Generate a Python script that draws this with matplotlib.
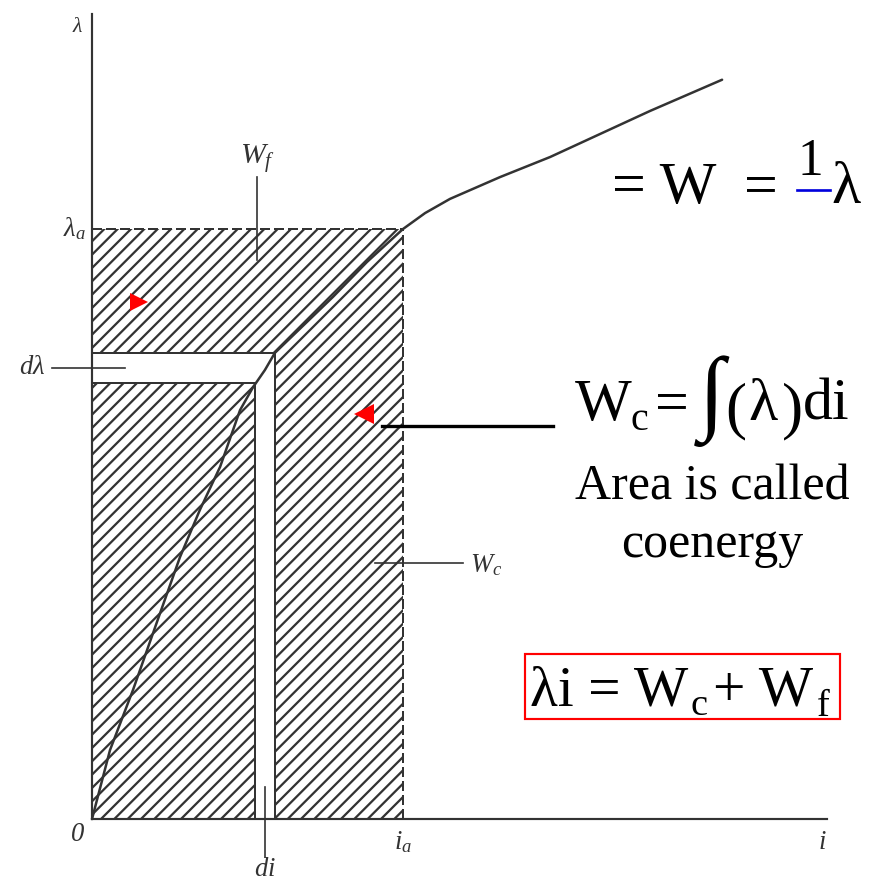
import matplotlib
matplotlib.use('Agg')
import matplotlib.pyplot as plt
from matplotlib.patches import Rectangle, Polygon
from matplotlib.lines import Line2D

# flux linkage vs current, normalised so that i_a = 1 and lambda_a = 1
curve_i = [0.0, 0.058, 0.132, 0.219, 0.283, 0.347, 0.412, 0.476, 0.518,
           0.556, 0.588, 0.775, 0.884, 1.0, 1.071, 1.151, 1.312, 1.473,
           1.794, 2.026]
curve_lam = [0.0, 0.117, 0.219, 0.349, 0.444, 0.524, 0.597, 0.693, 0.732,
             0.761, 0.790, 0.885, 0.944, 1.0, 1.027, 1.051, 1.088, 1.122,
             1.200, 1.253]

i_a = 1.0
lam_a = 1.0
di_strip = [0.524, 0.588]      # i range of the di strip
dlam_strip = [0.739, 0.790]    # lambda range of the d(lambda) strip
i_axis_end = 2.363
lam_axis_end = 1.365

W_PX, H_PX = 869, 884
DPI = 120
INK = '#333333'

plt.rcParams['hatch.linewidth'] = 1.35
plt.rcParams['hatch.color'] = INK
plt.rcParams['mathtext.fontset'] = 'custom'
plt.rcParams['mathtext.rm'] = 'Liberation Serif'
plt.rcParams['mathtext.it'] = 'Liberation Serif:italic'

fig = plt.figure(figsize=(W_PX / DPI, H_PX / DPI), dpi=DPI)
ax = fig.add_axes([0, 0, 1, 1])
ax.set_xlim(-92 / 311, 777 / 311)
ax.set_ylim(-65 / 590, 819 / 590)
ax.axis('off')

book = dict(family='Liberation Serif', style='italic', color=INK)
slide = dict(family='Liberation Serif', color='black')


def fig_text(px, py, s, size, **kw):
    opts = dict(slide)
    opts.update(kw)
    fig.text(px / W_PX, 1 - py / H_PX, s, fontsize=size,
             ha=opts.pop('ha', 'left'), va=opts.pop('va', 'baseline'), **opts)


# hatched rectangle i_a x lambda_a
ax.add_patch(Rectangle((0, 0), i_a, lam_a, facecolor='white',
                       edgecolor=INK, hatch='///', linewidth=0))

# white L-shaped strips di and d(lambda)
i1, i2 = di_strip
l1, l2 = dlam_strip
ax.add_patch(Polygon([(0, l1), (i1, l1), (i1, 0), (i2, 0), (i2, l2), (0, l2)],
                     closed=True, facecolor='white', edgecolor='none'))
for xs, ys in [([0, i2], [l2, l2]), ([0, i1], [l1, l1]),
               ([i1, i1], [0, l1]), ([i2, i2], [0, l2])]:
    ax.plot(xs, ys, color=INK, lw=1.2)

# dashed limits at i_a and lambda_a
ax.plot([0, i_a], [lam_a, lam_a], color=INK, lw=1.2, ls=(0, (5, 2)))
ax.plot([i_a, i_a], [0, lam_a], color=INK, lw=1.2, ls=(0, (5, 2)))

# axes
ax.plot([0, 0], [0, lam_axis_end], color=INK, lw=1.3)
ax.plot([0, i_axis_end], [0, 0], color=INK, lw=1.3)

# magnetisation curve
ax.plot(curve_i, curve_lam, color=INK, lw=1.5, solid_capstyle='round',
        solid_joinstyle='round')

# leaders
ax.plot([0.531, 0.531], [0.947, 1.088], color=INK, lw=1.0)
ax.plot([-0.129, 0.106], [sum(dlam_strip) / 2] * 2, color=INK, lw=1.0)
ax.plot([sum(di_strip) / 2] * 2, [0.054, -0.064], color=INK, lw=1.0)
ax.plot([0.91, 1.193], [0.434, 0.434], color=INK, lw=1.0)

# book labels
ax.text(-0.045, 1.341, r'$\lambda$', fontsize=13, ha='center', va='center', **book)
ax.text(-0.02, lam_a, r'$\lambda_a$', fontsize=16, ha='right', va='center', **book)
ax.text(-0.15, sum(dlam_strip) / 2, r'$d\lambda$', fontsize=16, ha='right', va='center', **book)
ax.text(0.534, 1.12, r'$W_f$', fontsize=18, ha='center', va='center', **book)
ax.text(-0.045, -0.027, '0', fontsize=16, ha='center', va='center', **book)
ax.text(i_a, -0.04, r'$i_a$', fontsize=16, ha='center', va='center', **book)
ax.text(2.347, -0.04, r'$i$', fontsize=16, ha='center', va='center', **book)
ax.text(sum(di_strip) / 2, -0.086, r'$di$', fontsize=16, ha='center', va='center', **book)
ax.text(1.215, 0.43, r'$W_c$', fontsize=16, ha='left', va='center', **book)

# red pointers and the black leader to the coenergy formula
ax.plot([0.152], [0.876], marker='>', color='red', ms=11, mec='none')
ax.plot([0.876], [0.686], marker='<', color='red', ms=12, mec='none')
fig.add_artist(Line2D([382 / W_PX, 553 / W_PX], [1 - 426 / H_PX] * 2,
                      color='black', lw=2.0))

# energy expression
fig_text(612, 203, '= W', 36)
fig_text(744, 203, '=', 36)
fig_text(797, 175, '1', 31)
fig.add_artist(Line2D([797 / W_PX, 830 / W_PX], [1 - 190 / H_PX] * 2,
                      color='#0000dd', lw=1.6))
fig_text(831, 203, 'λ', 36)

# coenergy expression
fig_text(575, 420, 'W', 36)
fig_text(630, 430, 'c', 24)
fig_text(655, 420, '=', 36)
fig_text(699, 422, '∫', 56)
fig_text(725, 426, '(', 38)
fig_text(748, 420, 'λ', 36)
fig_text(782, 426, ')', 38)
fig_text(803, 420, 'di', 36)

fig_text(712, 500, 'Area is called', 30, ha='center')
fig_text(712, 557, 'coenergy', 30, ha='center')

# boxed identity
fig.add_artist(Rectangle((525 / W_PX, 1 - 719 / H_PX), 315 / W_PX, 65 / H_PX,
                         transform=fig.transFigure, fill=False,
                         edgecolor='red', lw=1.3))
fig_text(530, 705, 'λi = W', 34.5)
fig_text(690, 715, 'c', 23)
fig_text(713, 705, '+ W', 34.5)
fig_text(817, 716, 'f', 23)

fig.savefig('out.png', dpi=DPI)
